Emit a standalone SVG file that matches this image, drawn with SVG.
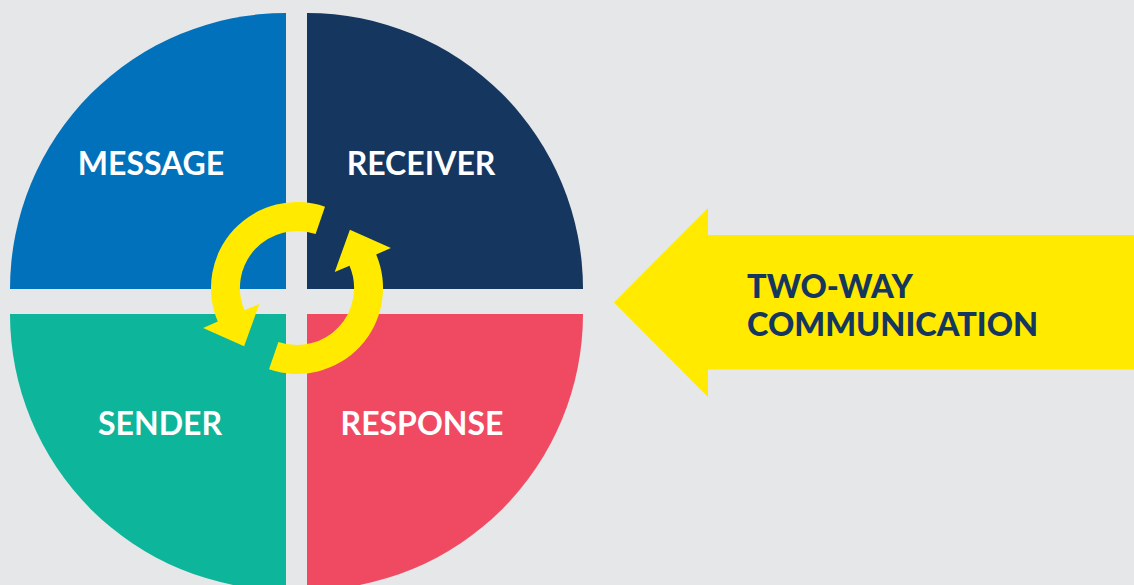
<svg xmlns="http://www.w3.org/2000/svg" xmlns:xlink="http://www.w3.org/1999/xlink" width="1134" height="585" viewBox="0 0 1134 585">
  <style>
    .label { font-family: Lato, "Open Sans", "Liberation Sans", sans-serif; font-weight: 700; font-size: 32px; fill: #ffffff; text-anchor: middle; }
    .callout { font-family: Lato, "Open Sans", "Liberation Sans", sans-serif; font-weight: 900; font-size: 32.5px; fill: #15365e; }
    .cycle { fill: #ffea00; }
  </style>
  <defs>
    <!-- one curved arrow of the cycle ring, centred on (297,288) -->
    <path id="cycle-arc" d="M325,206.7 A86,86 0 0 0 217.8,321.6 L203.1,327.9 L244.1,346.3 L259.3,304 L244.5,310.3 A57,57 0 0 1 315.6,234.1 Z"/>
  </defs>

  <rect width="1134" height="585" fill="#e6e7e8"/>

  <g id="message">
    <path d="M286,289 L10,289 A276,276 0 0 1 286,13 Z" fill="#0071ba"/>
    <text class="label" x="151" y="175">MESSAGE</text>
  </g>
  <g id="receiver">
    <path d="M307,289 L307,13 A276,276 0 0 1 583,289 Z" fill="#15365e"/>
    <text class="label" x="421" y="175">RECEIVER</text>
  </g>
  <g id="sender">
    <path d="M286,314 L286,590 A276,276 0 0 1 10,314 Z" fill="#0db59a"/>
    <text class="label" x="160" y="435">SENDER</text>
  </g>
  <g id="response">
    <path d="M307,314 L583,314 A276,276 0 0 1 307,590 Z" fill="#f04a63"/>
    <text class="label" x="422" y="435">RESPONSE</text>
  </g>

  <g id="connectors">
    <use xlink:href="#cycle-arc" class="cycle"/>
    <use xlink:href="#cycle-arc" class="cycle" transform="rotate(180 297 288)"/>
  </g>

  <g id="two-way-communication">
    <polygon points="614,302.5 708,208 708,235 1134,235 1134,369.5 708,369.5 708,397" fill="#ffea00"/>
    <text class="callout" x="747" y="297.7">TWO-WAY</text>
    <text class="callout" x="747" y="335.7">COMMUNICATION</text>
  </g>
</svg>
